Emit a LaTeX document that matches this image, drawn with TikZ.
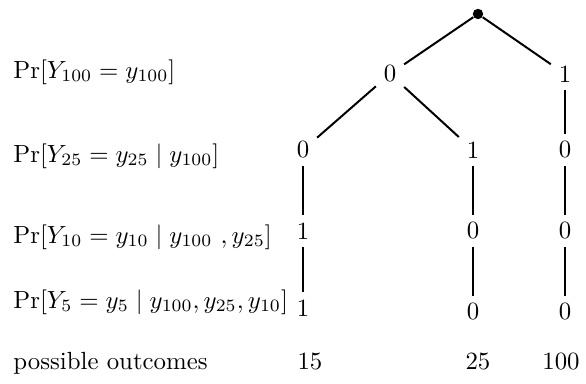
\documentclass[tikz,border=0pt]{standalone}
\usepackage{amsmath}
\begin{document}
\begin{tikzpicture}[x=0.403pt,y=-0.403pt,
  lbl/.style={anchor=west,inner sep=0pt,text height=7.5pt,text depth=2.5pt},
  val/.style={inner sep=3pt},
  outc/.style={inner sep=0pt,text height=7.5pt,text depth=2.5pt},
  root/.style={circle,fill=black,inner sep=0pt,minimum size=4.2pt},
  edge/.style={line width=0.8pt}]
\useasboundingbox (0,0) rectangle (586,384);
% row labels
\node[lbl] (L1) at (13,72) {$\Pr[Y_{100} = y_{100}]$};
\node[lbl] (L2) at (13,156) {$\Pr[Y_{25} = y_{25} \mid y_{100}]$};
\node[lbl] (L3) at (13,237) {$\Pr[Y_{10} = y_{10} \mid y_{100}\ , y_{25}]$};
\node[lbl] (L4) at (13,302) {$\Pr[Y_{5} = y_{5} \mid y_{100}, y_{25}, y_{10}]$};
\node[lbl] (L5) at (13,363) {possible outcomes};
% tree
\node[root] (r) at (478,14) {};
\node[val] (a) at (390,74) {0};
\node[val] (b) at (565,74) {1};
\node[val] (c) at (303,150) {0};
\node[val] (d) at (473,150) {1};
\node[val] (e) at (565,150) {0};
\node[val] (c2) at (303,231) {1};
\node[val] (d2) at (473,231) {0};
\node[val] (e2) at (565,231) {0};
\node[val] (c3) at (303,308) {1};
\node[val] (d3) at (473,312) {0};
\node[val] (e3) at (565,312) {0};
% outcomes
\node[outc] (o1) at (310,363) {15};
\node[outc] (o2) at (478,363) {25};
\node[outc] (o3) at (561,363) {100};
% edges
\draw[edge] (r) -- (a);
\draw[edge] (r) -- (b);
\draw[edge] (a) -- (c);
\draw[edge] (a) -- (d);
\draw[edge] (b) -- (e);
\draw[edge] (c) -- (c2);
\draw[edge] (c2) -- (c3);
\draw[edge] (d) -- (d2);
\draw[edge] (d2) -- (d3);
\draw[edge] (e) -- (e2);
\draw[edge] (e2) -- (e3);
\end{tikzpicture}
\end{document}
